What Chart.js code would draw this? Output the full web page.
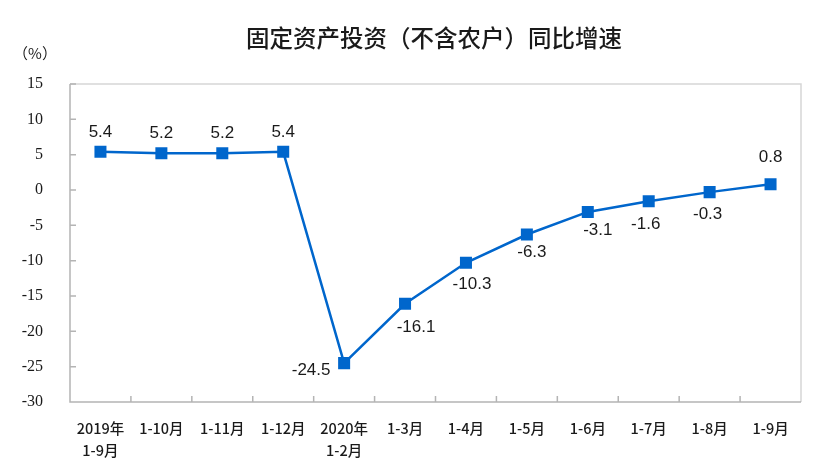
<!DOCTYPE html>
<html>
<head>
<meta charset="utf-8">
<script src="https://cdn.jsdelivr.net/npm/chart.js@4"></script>
<style>
  html, body { margin: 0; padding: 0; background: #fff; }
  #wrap { width: 830px; height: 473px; position: relative; }
</style>
</head>
<body>
<div id="wrap"><canvas id="c" width="830" height="473"></canvas></div>
<script>
// Fixed-asset investment (excluding rural households), cumulative YoY growth
const CATEGORIES = [
  ["2019年", "1-9月"], "1-10月", "1-11月", "1-12月", ["2020年", "1-2月"],
  "1-3月", "1-4月", "1-5月", "1-6月", "1-7月", "1-8月", "1-9月",
];
const GROWTH = [5.4, 5.2, 5.2, 5.4, -24.5, -16.1, -10.3, -6.3, -3.1, -1.6, -0.3, 0.8];
const Y_TICKS = { min: -30, max: 15, step: 5 };
const TITLE = "固定资产投资（不含农户）同比增速";
const UNIT = "（%）";

// label placement relative to each marker (dx, dy of text centre)
const LABEL_OFFSETS = [
  [0, -20], [0, -20], [0, -20], [0, -20], [-33, 7], [11, 24],
  [6, 22], [5, 18], [10, 18], [-3, 23], [-2, 22], [0, -27],
];

const BLUE = "#0066cc";
const AXIS = "#b4b4b4";
const FRAME = "#d6d6d6";
const TEXT = "#1a1a1a";

const framePlugin = {
  id: "frame",
  beforeDatasetsDraw(chart) {
    const { ctx, chartArea: a } = chart;
    ctx.save();
    ctx.strokeStyle = FRAME;
    ctx.lineWidth = 1.5;
    ctx.beginPath();
    ctx.moveTo(a.left, a.top); ctx.lineTo(a.right, a.top); ctx.lineTo(a.right, a.bottom);
    ctx.stroke();

    ctx.strokeStyle = AXIS;
    ctx.lineWidth = 1.5;
    ctx.beginPath();
    ctx.moveTo(a.left, a.top); ctx.lineTo(a.left, a.bottom); ctx.lineTo(a.right, a.bottom);
    // inward tick marks
    const ys = chart.scales.y;
    ys.ticks.forEach((t) => {
      const y = ys.getPixelForValue(t.value);
      ctx.moveTo(a.left, y); ctx.lineTo(a.left + 6, y);
    });
    const n = CATEGORIES.length;
    for (let i = 1; i < n; i++) {
      const x = a.left + (a.right - a.left) * i / n;
      ctx.moveTo(x, a.bottom); ctx.lineTo(x, a.bottom - 6);
    }
    ctx.stroke();
    ctx.restore();
  },
  afterDraw(chart) {
    const { ctx } = chart;
    ctx.save();
    ctx.fillStyle = TEXT;
    ctx.textAlign = "center";
    ctx.textBaseline = "middle";
    ctx.font = '500 23.5px "Noto Sans CJK SC", sans-serif';
    ctx.fillText(TITLE, 434, 38);
    ctx.font = '15px "Noto Sans CJK SC", sans-serif';
    ctx.fillText(UNIT, 35, 53);
    ctx.restore();
  },
};

const labelPlugin = {
  id: "pointLabels",
  afterDatasetsDraw(chart) {
    const { ctx } = chart;
    const meta = chart.getDatasetMeta(0);
    ctx.save();
    ctx.fillStyle = TEXT;
    ctx.font = '17px "Liberation Sans", Arial, sans-serif';
    ctx.textAlign = "center";
    ctx.textBaseline = "middle";
    meta.data.forEach((pt, i) => {
      const [dx, dy] = LABEL_OFFSETS[i];
      ctx.fillText(GROWTH[i].toFixed(1), pt.x + dx, pt.y + dy);
    });
    ctx.restore();
  },
};

new Chart(document.getElementById("c"), {
  type: "line",
  data: {
    labels: CATEGORIES,
    datasets: [{
      data: GROWTH,
      borderColor: BLUE,
      borderWidth: 2.5,
      tension: 0,
      pointStyle: "rect",
      pointRadius: 8.5,
      pointBackgroundColor: BLUE,
      pointBorderColor: BLUE,
      pointBorderWidth: 0,
    }],
  },
  options: {
    responsive: false,
    animation: false,
    layout: { padding: { top: 84, right: 29, left: 0, bottom: 0 } },
    plugins: { legend: { display: false }, tooltip: { enabled: false }, title: { display: false } },
    scales: {
      x: {
        offset: true,
        grid: { display: false },
        border: { display: false },
        ticks: {
          color: TEXT,
          font: { family: '"Noto Sans CJK SC", sans-serif', size: 14.5, weight: 500, lineHeight: 1.5 },
          padding: 8,
          maxRotation: 0,
          autoSkip: false,
        },
        afterFit: (s) => { s.height = 71; },
      },
      y: {
        min: Y_TICKS.min,
        max: Y_TICKS.max,
        grid: { display: false },
        border: { display: false },
        ticks: {
          stepSize: Y_TICKS.step,
          color: TEXT,
          font: { family: "'Liberation Serif', serif", size: 16 },
          padding: 19,
        },
        afterFit: (s) => { s.width = 70; },
      },
    },
  },
  plugins: [framePlugin, labelPlugin],
});
</script>
</body>
</html>
